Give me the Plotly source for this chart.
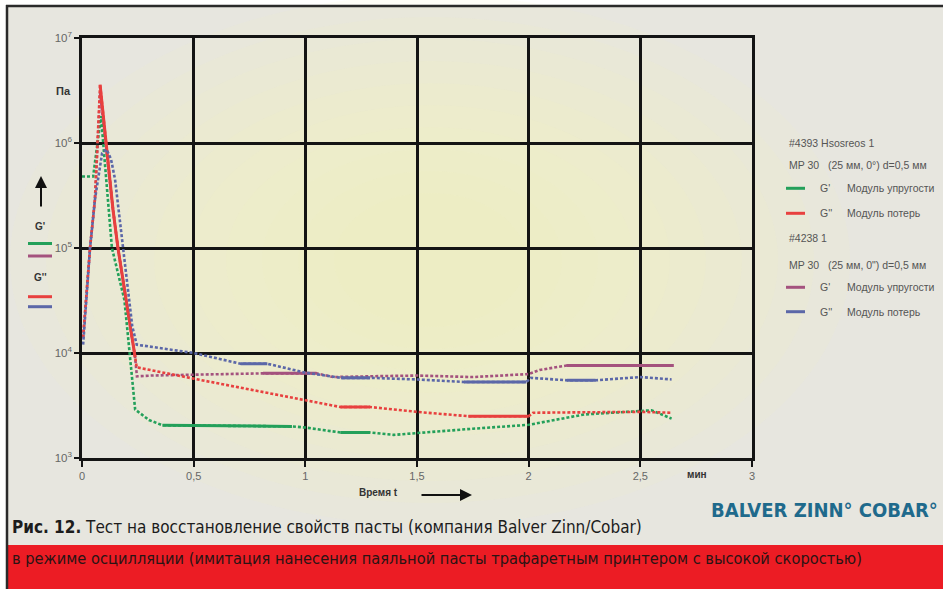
import plotly.graph_objects as go

# ---------------- data ----------------
# Series: #4393 G' (green), #4393 G'' (red), #4238 G' (purple), #4238 G'' (blue)
t_green = [0.0, 0.05, 0.085, 0.134, 0.19, 0.238, 0.30, 0.36, 0.94, 1.0, 1.157, 1.29, 1.395, 1.5, 1.75, 2.0, 2.25, 2.5, 2.55, 2.64]
v_green = [4.8e5, 4.8e5, 1.8e6, 1.0e5, 3.2e4, 2.9e3, 2.3e3, 2.05e3, 2.0e3, 1.95e3, 1.75e3, 1.75e3, 1.66e3, 1.73e3, 1.9e3, 2.07e3, 2.6e3, 2.8e3, 2.85e3, 2.37e3]
solid_green = [(0.36, 0.94), (1.157, 1.29)]

t_red = [0.005, 0.036, 0.058, 0.081, 0.139, 0.161, 0.238, 0.245, 0.5, 1.0, 1.157, 1.29, 1.5, 1.73, 2.0, 2.02, 2.5, 2.64]
v_red = [1.4e4, 1.0e5, 2.9e5, 3.6e6, 2.3e5, 1.0e5, 9.1e3, 7.3e3, 5.7e3, 3.55e3, 3.06e3, 3.06e3, 2.75e3, 2.5e3, 2.5e3, 2.7e3, 2.75e3, 2.7e3]
solid_red = [(0.081, 0.238), (1.157, 1.29), (1.73, 2.0)]

t_purple = [0.005, 0.036, 0.058, 0.081, 0.139, 0.161, 0.238, 0.246, 0.31, 0.5, 0.81, 1.05, 1.125, 1.29, 1.5, 1.75, 2.0, 2.05, 2.17, 2.65]
v_purple = [1.4e4, 1.0e5, 2.9e5, 3.0e6, 2.3e5, 1.0e5, 9.0e3, 6.0e3, 6.1e3, 6.2e3, 6.4e3, 6.4e3, 5.9e3, 6.0e3, 6.1e3, 5.9e3, 6.3e3, 6.9e3, 7.6e3, 7.6e3]
solid_purple = [(0.81, 1.05), (2.17, 2.65)]

t_blue = [0.005, 0.036, 0.058, 0.09, 0.11, 0.13, 0.148, 0.185, 0.225, 0.245, 0.5, 0.71, 0.83, 1.0, 1.16, 1.29, 1.5, 1.71, 1.99, 2.01, 2.17, 2.30, 2.5, 2.64]
v_blue = [1.2e4, 1.0e5, 2.9e5, 8.0e5, 8.7e5, 7.0e5, 4.5e5, 1.0e5, 1.8e4, 1.2e4, 1.0e4, 7.9e3, 7.9e3, 6.5e3, 5.8e3, 5.8e3, 5.6e3, 5.3e3, 5.3e3, 5.8e3, 5.5e3, 5.5e3, 5.9e3, 5.6e3]
solid_blue = [(0.71, 0.83), (1.16, 1.29), (1.71, 1.99), (2.17, 2.30)]

x_ticks = [0, 0.5, 1, 1.5, 2, 2.5, 3]
x_tick_text = ["0", "0,5", "1", "1,5", "2", "2,5", "3"]
y_ticks = [1e3, 1e4, 1e5, 1e6, 1e7]
y_tick_text = ["10<sup>3</sup>", "10<sup>4</sup>", "10<sup>5</sup>", "10<sup>6</sup>", "10<sup>7</sup>"]

C_GREEN = "#23a05a"
C_RED = "#e8403f"
C_PURPLE = "#a4527e"
C_BLUE = "#5b67a8"

# ---------------- figure ----------------
W, H = 943, 589
ML, MR, MT, MB = 82, 191, 38, 131
PW, PH = W - ML - MR, H - MT - MB


def xp(px):
    return (px - ML) / PW


def yp(py):
    return (H - MB - py) / PH


fig = go.Figure()


def add_series(t, v, solid, color):
    fig.add_trace(go.Scatter(x=t, y=v, mode="lines",
                             line=dict(color=color, width=2.6, dash="3px,2px"),
                             hoverinfo="skip", showlegend=False))
    ys = [val if any(a - 1e-9 <= tt <= b + 1e-9 for a, b in solid) else None for tt, val in zip(t, v)]
    fig.add_trace(go.Scatter(x=t, y=ys, mode="lines", connectgaps=False,
                             line=dict(color=color, width=3),
                             hoverinfo="skip", showlegend=False))


add_series(t_purple, v_purple, solid_purple, C_PURPLE)
add_series(t_green, v_green, solid_green, C_GREEN)
add_series(t_red, v_red, solid_red, C_RED)
add_series(t_blue, v_blue, solid_blue, C_BLUE)

shapes = []
# outer frame & background
shapes.append(dict(type="rect", xref="paper", yref="paper", layer="below",
                   x0=xp(7), x1=xp(W + 5), y0=yp(545), y1=yp(6),
                   fillcolor="#e7e6df", line=dict(width=0)))
# soft yellow glow (radial gradient imitation)
cx, cy = 430, 260
for i in range(10):
    rx = 420 - i * 36
    ry = 265 - i * 22
    shapes.append(dict(type="circle", xref="paper", yref="paper", layer="below",
                       x0=xp(cx - rx), x1=xp(cx + rx), y0=yp(cy + ry), y1=yp(cy - ry),
                       fillcolor="rgba(250,244,190,0.10)", line=dict(width=0)))
shapes.append(dict(type="rect", xref="paper", yref="paper", layer="above",
                   x0=xp(7), x1=xp(W + 5), y0=yp(H + 5), y1=yp(545),
                   fillcolor="#ec1c24", line=dict(width=0)))
shapes.append(dict(type="line", xref="paper", yref="paper", layer="above",
                   x0=xp(6), x1=xp(W + 5), y0=yp(6), y1=yp(6),
                   line=dict(color="#2a2a2a", width=2.5)))
shapes.append(dict(type="line", xref="paper", yref="paper", layer="above",
                   x0=xp(7), x1=xp(7), y0=yp(5), y1=yp(H + 5),
                   line=dict(color="#2a2a2a", width=2.5)))

# left key swatches
for yy, col in [(243.5, C_GREEN), (256, C_PURPLE), (296.7, C_RED), (306.7, C_BLUE)]:
    shapes.append(dict(type="line", xref="paper", yref="paper",
                       x0=xp(28), x1=xp(52), y0=yp(yy), y1=yp(yy),
                       line=dict(color=col, width=3)))
# right key swatches
for yy, col in [(188.3, C_GREEN), (213.3, C_RED), (287.3, C_PURPLE), (311.7, C_BLUE)]:
    shapes.append(dict(type="line", xref="paper", yref="paper",
                       x0=xp(786), x1=xp(805), y0=yp(yy), y1=yp(yy),
                       line=dict(color=col, width=3)))

ann = []
LF = "Liberation Sans, Arial, sans-serif"


def text(px, py, s, size=10.5, color="#555555", anchor="left", family=LF, bold=False):
    if bold:
        s = "<b>" + s + "</b>"
    ann.append(dict(x=xp(px), y=yp(py), xref="paper", yref="paper", text=s,
                    showarrow=False, xanchor=anchor, yanchor="middle",
                    font=dict(size=size, color=color, family=family)))


nb = "\u00a0"
text(787, 142.7, "#4393 Hsosreos 1")
text(787, 165, "MP 30" + nb * 3 + "(25 мм, 0°) d=0,5 мм")
text(818, 188.3, "G'")
text(845, 188.3, "Модуль упругости")
text(818, 213.3, "G''")
text(845, 213.3, "Модуль потерь")
text(787, 238.3, "#4238 1")
text(787, 265, "MP 30" + nb * 3 + "(25 мм, 0\") d=0,5 мм")
text(818, 287.3, "G'")
text(845, 287.3, "Модуль упругости")
text(818, 311.7, "G''")
text(845, 311.7, "Модуль потерь")

text(40, 227, "G'", size=10, color="#333333", anchor="center", bold=True)
text(40, 277, "G''", size=10, color="#333333", anchor="center", bold=True)
text(63, 91, "Па", size=11, color="#333333", anchor="center", bold=True)
text(697, 474, "мин", size=10, color="#333333", anchor="center", bold=True)
text(378, 493, "Время t", size=10, color="#333333", anchor="center", bold=True)

# arrows
ann.append(dict(x=xp(41), y=yp(176), xref="paper", yref="paper", text="",
                showarrow=True, ax=0, ay=32, arrowhead=2, arrowsize=1.2,
                arrowwidth=2, arrowcolor="#111111"))
ann.append(dict(x=xp(472), y=yp(495), xref="paper", yref="paper", text="",
                showarrow=True, ax=-52, ay=0, arrowhead=2, arrowsize=1.2,
                arrowwidth=2, arrowcolor="#111111"))

CF = "Liberation Sans Narrow, DejaVu Sans Condensed, Roboto Condensed, Arial Narrow, sans-serif"
text(10, 527, "<b>Рис. 12.</b> Тест на восстановление свойств пасты (компания Balver Zinn/Cobar)",
     size=17, color="#1c1c1c", family=CF)
text(10, 558, "в режиме осцилляции (имитация нанесения паяльной пасты трафаретным принтером с высокой скоростью)",
     size=16.3, color="#2a1414", family=CF)
text(940, 510, "BALVER ZINN° COBAR°", size=20, color="#1f6a8c", anchor="right", family=CF, bold=True)

fig.update_layout(
    width=W, height=H,
    margin=dict(l=ML, r=MR, t=MT, b=MB, pad=0),
    paper_bgcolor="white",
    plot_bgcolor="rgba(0,0,0,0)",
    shapes=shapes,
    annotations=ann,
    showlegend=False,
    xaxis=dict(range=[0, 3], tickvals=x_ticks, ticktext=x_tick_text,
               showgrid=True, gridcolor="#141414", gridwidth=2.5,
               showline=True, linecolor="#141414", linewidth=2.5, mirror=True,
               ticks="outside", ticklen=6, tickwidth=2, tickcolor="#141414",
               tickfont=dict(family=LF, size=11, color="#666666"),
               zeroline=False, fixedrange=True),
    yaxis=dict(type="log", range=[3, 7], tickvals=y_ticks, ticktext=y_tick_text,
               showgrid=True, gridcolor="#141414", gridwidth=2.5,
               showline=True, linecolor="#141414", linewidth=2.5, mirror=True,
               ticks="outside", ticklen=5, tickwidth=2, tickcolor="#141414",
               tickfont=dict(family=LF, size=11.5, color="#666666"),
               zeroline=False, fixedrange=True),
)

fig.write_html("out.html", config={"displayModeBar": False},
               post_script="document.body.style.margin='0px';document.body.style.overflow='hidden';")
